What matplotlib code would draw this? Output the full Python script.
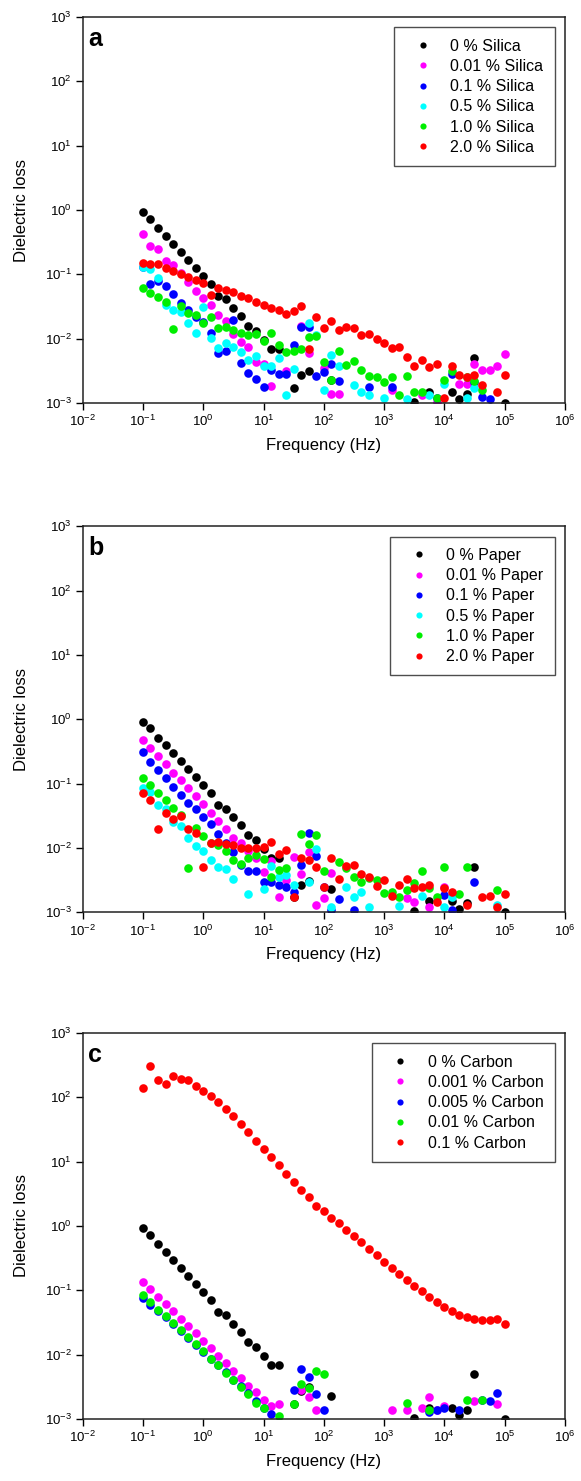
import numpy as np
import matplotlib
matplotlib.use("Agg")
import matplotlib.pyplot as plt

plt.rcParams['font.family'] = ['Liberation Sans', 'DejaVu Sans']
plt.rcParams['mathtext.default'] = 'regular'

nan = np.nan

# measurement frequencies (Hz), 8 points per decade from 0.1 Hz to 100 kHz
freq = [0.1, 0.1334, 0.1778, 0.2371, 0.3162, 0.4217, 0.5623, 0.7499,
        1.0, 1.334, 1.778, 2.371, 3.162, 4.217, 5.623, 7.499,
        10.0, 13.34, 17.78, 23.71, 31.62, 42.17, 56.23, 74.99,
        100.0, 133.4, 177.8, 237.1, 316.2, 421.7, 562.3, 749.9,
        1000.0, 1334, 1778, 2371, 3162, 4217, 5623, 7499,
        10000.0, 13340, 17780, 23710, 31620, 42170, 56230, 74990,
        100000.0]

# base oil, shared by all three panels
base = [0.92, 0.72, 0.52, 0.40, 0.30, 0.225, 0.167, 0.127,
        0.094, 0.071, 0.046, 0.041, 0.030, 0.0228, 0.0159, 0.0133,
        0.0095, 0.0069, 0.0069, nan, 0.0017, 0.0027, 0.0031, nan,
        nan, 0.0023, nan, nan, nan, nan, nan, nan,
        nan, nan, nan, nan, 0.00105, nan, 0.0015, nan,
        nan, 0.0015, 0.00114, 0.0014, 0.0050, nan, nan, nan,
        0.0010]

# (a) silica
silica_001 = [0.42, 0.28, 0.245, 0.161, 0.14, 0.104, 0.075, 0.056,
              0.0425, 0.0334, 0.0234, 0.0189, 0.0117, 0.0090, 0.0073, 0.0044,
              0.0041, 0.00186, nan, 0.0031, nan, 0.016, 0.0059, nan,
              0.0035, 0.0014, 0.0014, nan, nan, nan, nan, nan,
              nan, 0.0016, nan, nan, nan, 0.00133, nan, 0.00105,
              nan, nan, 0.0020, 0.0020, 0.0040, 0.0032, 0.0033, 0.0038,
              0.0057]
silica_01 = [0.13, 0.071, 0.08, 0.066, 0.0495, 0.0355, 0.028, 0.0215,
             0.018, 0.0124, 0.0059, 0.0065, 0.0195, 0.0042, 0.00296, 0.00233,
             0.00175, 0.00326, 0.00282, 0.00282, 0.008, 0.0154, 0.0154, 0.0026,
             0.003, 0.0041, 0.0022, nan, nan, nan, 0.0018, nan,
             nan, 0.0018, nan, nan, nan, nan, nan, 0.0012,
             nan, 0.0028, nan, nan, 0.0021, 0.00125, 0.00114, nan,
             nan]
silica_05 = [0.129, 0.12, 0.087, 0.0334, 0.028, 0.0257, 0.0174, 0.0122,
             0.0316, 0.0104, 0.0071, 0.0085, 0.0075, 0.0063, 0.0046, 0.0054,
             0.0037, 0.0037, 0.0050, 0.00133, 0.0034, nan, 0.0177, 0.0112,
             0.0016, 0.0055, 0.0037, nan, 0.0019, 0.0015, 0.00133, nan,
             0.0012, nan, nan, 0.00114, nan, nan, 0.00133, nan,
             0.0020, nan, nan, 0.0012, 0.0017, nan, nan, nan,
             nan]
silica_10 = [0.0607, 0.0508, 0.044, 0.0377, 0.014, 0.0323, 0.0254, 0.0234,
             0.0177, 0.0215, 0.0145, 0.0154, 0.0137, 0.0121, 0.0114, 0.0118,
             0.0093, 0.0121, 0.0080, 0.0061, 0.0064, 0.0068, 0.0107, 0.011,
             0.0044, 0.0023, 0.0065, 0.0039, 0.0045, 0.0033, 0.0026, 0.0025,
             0.0021, 0.0025, 0.00133, 0.0026, 0.0015, 0.0015, nan, 0.0012,
             0.0023, 0.0031, nan, 0.0025, 0.0022, 0.0016, nan, nan,
             nan]
silica_20 = [0.152, 0.144, 0.144, 0.127, 0.113, 0.100, 0.092, 0.082,
             0.0726, 0.0478, 0.062, 0.057, 0.0526, 0.0467, 0.0425, 0.0377,
             0.0334, 0.0303, 0.0279, 0.0242, 0.027, 0.0326, 0.0068, 0.0215,
             0.0145, 0.019, 0.0137, 0.0154, 0.0145, 0.0114, 0.0118, 0.0098,
             0.0087, 0.0072, 0.0073, 0.0052, 0.0037, 0.0047, 0.0036, 0.0040,
             0.00118, 0.0038, 0.0027, 0.0025, 0.0027, 0.0019, nan, 0.0015,
             0.0027]

# (b) paper
paper_001 = [0.48, 0.355, 0.27, 0.20, 0.148, 0.114, 0.085, 0.065,
             0.048, 0.0347, 0.0263, 0.0195, 0.0145, 0.0118, 0.0090, 0.0071,
             0.0042, 0.0063, 0.0017, 0.0032, 0.0073, 0.0040, 0.0086, 0.0013,
             0.00165, 0.0041, nan, nan, nan, nan, nan, nan,
             nan, nan, nan, 0.00165, 0.00146, nan, 0.0012, nan,
             0.0025, nan, nan, nan, nan, nan, nan, nan,
             nan]
paper_01 = [0.315, 0.215, 0.161, 0.121, 0.090, 0.067, 0.0495, 0.0404,
            0.0307, 0.0236, 0.0163, 0.0118, 0.0088, 0.0054, 0.0044, 0.0044,
            0.0030, 0.0030, 0.0027, 0.0025, 0.0021, 0.0054, 0.0169, 0.0075,
            0.0025, 0.00108, 0.0016, nan, 0.0011, nan, nan, nan,
            nan, nan, nan, nan, nan, nan, nan, nan,
            0.00186, 0.00108, nan, nan, 0.0030, nan, nan, nan,
            nan]
paper_05 = [0.087, 0.075, 0.0467, 0.040, 0.0256, 0.0222, 0.0145, 0.0109,
            0.0090, 0.0064, 0.0050, 0.0047, 0.0033, nan, 0.0019, nan,
            0.0023, 0.0052, 0.0036, 0.0038, 0.0027, nan, 0.0030, 0.0095,
            nan, 0.0012, nan, 0.0025, 0.0017, 0.0021, 0.0012, nan,
            nan, nan, 0.00125, nan, nan, 0.0018, nan, nan,
            0.0012, 0.0017, nan, nan, nan, nan, nan, 0.0013,
            nan]
paper_10 = [0.124, 0.095, 0.071, 0.056, 0.0424, 0.0326, 0.0048, 0.0207,
            0.0155, 0.012, 0.0111, 0.0090, 0.0065, 0.0056, 0.0071, 0.0078,
            0.0067, 0.0035, 0.0045, 0.0049, nan, 0.0163, 0.0114, 0.0159,
            0.0044, nan, 0.0060, 0.0048, 0.0036, 0.0030, 0.0034, 0.0032,
            0.0020, 0.0021, 0.0017, 0.0022, 0.0029, 0.0044, 0.0024, 0.0017,
            0.0051, nan, 0.0019, 0.0051, nan, nan, nan, 0.0022,
            nan]
paper_20 = [0.0725, 0.056, 0.0198, 0.0347, 0.0282, 0.0315, 0.0195, 0.0169,
            0.0051, 0.0118, 0.0125, 0.0114, 0.0111, 0.0101, 0.0101, 0.0101,
            0.0105, 0.0123, 0.0080, 0.0093, 0.00175, 0.0069, 0.0065, 0.0050,
            0.0025, 0.0071, 0.0033, 0.0052, 0.0054, 0.0039, 0.0036, 0.0026,
            0.0032, 0.0018, 0.0027, 0.0033, 0.0024, 0.0025, 0.0027, 0.00146,
            0.0024, 0.0021, nan, 0.0013, nan, 0.0017, 0.0018, 0.0012,
            0.0019]

# (c) carbon
carbon_0001 = [0.135, 0.105, 0.080, 0.062, 0.047, 0.036, 0.028, 0.022,
               0.0165, 0.0125, 0.0095, 0.0073, 0.0056, 0.0043, 0.0033, 0.0026,
               0.0020, 0.0016, 0.0017, nan, nan, 0.0028, 0.0022, 0.0014,
               nan, nan, nan, nan, nan, nan, nan, nan,
               nan, 0.0014, nan, 0.0014, nan, 0.0015, 0.0022, 0.0014,
               0.0016, nan, nan, nan, 0.0019, nan, nan, 0.0017,
               nan]
carbon_0005 = [0.075, 0.060, 0.048, 0.038, 0.030, 0.023, 0.018, 0.014,
               0.011, 0.0085, 0.0068, 0.0053, 0.0041, 0.0032, 0.0025, 0.0019,
               0.0015, 0.0012, nan, nan, 0.0028, 0.0060, 0.0045, 0.0024,
               0.0014, nan, nan, nan, nan, nan, nan, nan,
               nan, nan, nan, nan, nan, nan, 0.0013, 0.0014,
               0.0015, nan, 0.0014, nan, nan, 0.0020, 0.0019, 0.0025,
               nan]
carbon_001 = [0.085, 0.065, 0.050, 0.040, 0.031, 0.024, 0.0185, 0.0145,
              0.0112, 0.0087, 0.0068, 0.0052, 0.0040, 0.0031, 0.0024, 0.0018,
              0.0015, nan, 0.0011, nan, 0.0017, 0.0035, 0.0030, 0.0055,
              0.0050, nan, nan, nan, nan, nan, nan, nan,
              nan, nan, nan, 0.0018, nan, nan, 0.0014, nan,
              nan, nan, nan, 0.0020, nan, 0.0020, nan, nan,
              nan]
carbon_01 = [141, 312, 186, 160, 215, 191, 186, 150,
             127, 105, 85, 67, 51, 39, 28.4, 21,
             16, 11.8, 8.75, 6.5, 4.8, 3.65, 2.8, 2.07,
             1.69, 1.32, 1.10, 0.865, 0.705, 0.555, 0.44, 0.35,
             0.28, 0.225, 0.18, 0.145, 0.118, 0.097, 0.080, 0.066,
             0.055, 0.047, 0.041, 0.038, 0.036, 0.035, 0.035, 0.036,
             0.030]

colors = ['black', '#ff00ff', '#0000ff', '#00ffff', '#00ee00', '#ff0000']

panels = [
    ('a', [base, silica_001, silica_01, silica_05, silica_10, silica_20],
     ['0 % Silica', '0.01 % Silica', '0.1 % Silica', '0.5 % Silica',
      '1.0 % Silica', '2.0 % Silica'],
     colors),
    ('b', [base, paper_001, paper_01, paper_05, paper_10, paper_20],
     ['0 % Paper', '0.01 % Paper', '0.1 % Paper', '0.5 % Paper',
      '1.0 % Paper', '2.0 % Paper'],
     colors),
    ('c', [base, carbon_0001, carbon_0005, carbon_001, carbon_01],
     ['0 % Carbon', '0.001 % Carbon', '0.005 % Carbon', '0.01 % Carbon',
      '0.1 % Carbon'],
     ['black', '#ff00ff', '#0000ff', '#00ee00', '#ff0000']),
]

fig = plt.figure(figsize=(5.81, 14.81), dpi=100)
bottoms = [0.7279, 0.3840, 0.0419]

for (letter, series, labels, cols), bot in zip(panels, bottoms):
    ax = fig.add_axes([0.1423, bot, 0.830, 0.2606])
    for y, lab, c in zip(series, labels, cols):
        ax.plot(freq, y, 'o', color=c, markersize=6.2, markeredgewidth=0,
                label=lab)
    ax.set_xscale('log')
    ax.set_yscale('log')
    ax.set_xlim(1e-2, 1e6)
    ax.set_ylim(1e-3, 1e3)
    ax.set_xticks([10.0 ** k for k in range(-2, 7)])
    ax.set_yticks([10.0 ** k for k in range(-3, 4)])
    ax.minorticks_off()
    ax.tick_params(which='major', direction='out', length=5, width=1,
                   labelsize=9.5, right=False, top=False, pad=3)
    for s in ax.spines.values():
        s.set_linewidth(1.1)
        s.set_color('#222222')
    ax.set_xlabel('Frequency (Hz)', fontsize=12, labelpad=6)
    ax.set_ylabel('Dielectric loss', fontsize=12, labelpad=11)
    ax.text(0.012, 0.975, letter, transform=ax.transAxes, fontsize=18,
            fontweight='bold', va='top', ha='left')
    leg = ax.legend(loc='upper right', fontsize=11.5, markerscale=0.72,
                    frameon=True, fancybox=False, edgecolor='#222222',
                    borderaxespad=0.65, labelspacing=0.33, handletextpad=0.6,
                    borderpad=0.7, handlelength=2.2)
    leg.get_frame().set_linewidth(1.0)

fig.savefig('out.png', dpi=100)
